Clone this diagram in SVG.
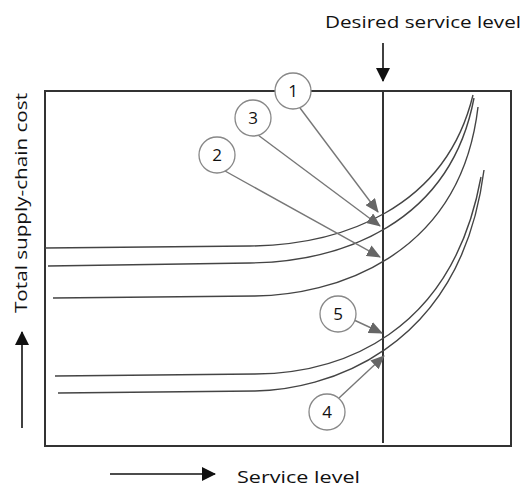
<svg xmlns="http://www.w3.org/2000/svg" width="523" height="488" viewBox="0 0 523 488">
<style>
.lbl{font-family:"Open Sans","DejaVu Sans",sans-serif;font-size:17px;fill:#111}
.num{font-family:"Open Sans","DejaVu Sans",sans-serif;font-size:17px;fill:#111;text-anchor:middle}
.circ{fill:#fff;stroke:#888;stroke-width:1.3}
.curve{fill:none;stroke:#444;stroke-width:1.4}
.pt{fill:none;stroke:#777;stroke-width:1.4;marker-end:url(#gh)}
.ax{stroke:#111;stroke-width:1.6;fill:none}
</style>
<defs>
<marker id="gh" markerWidth="14" markerHeight="12" refX="13" refY="6" orient="auto" markerUnits="userSpaceOnUse">
<path d="M0,0 L14,6 L0,12 Z" fill="#666"/>
</marker>
<marker id="bh" markerWidth="14" markerHeight="14" refX="13" refY="7" orient="auto" markerUnits="userSpaceOnUse">
<path d="M0,0 L14,7 L0,14 Z" fill="#111"/>
</marker>
</defs>
<rect width="523" height="488" fill="#fff"/>
<g id="frame">
<rect x="45" y="91" width="466" height="355" fill="none" stroke="#333" stroke-width="2"/>
<line x1="383" y1="91" x2="383" y2="443" stroke="#333" stroke-width="2"/>
</g>
<g id="curves">
<path class="curve" d="M45,248 L250,246 C340,245 445,210 473,95"/>
<path class="curve" d="M48,266 L250,263 C340,261.7 450,225 474,98"/>
<path class="curve" d="M53,298 L255,296 C330,295.3 460,260 478,107"/>
<path class="curve" d="M55,376 L255,374 C340,373.2 452,335 481,177"/>
<path class="curve" d="M58,393 L255,391 C320,390.3 460,355 484,170"/>
</g>
<g id="connectors">
<line class="pt" x1="300" y1="108" x2="378" y2="212"/>
<line class="pt" x1="258" y1="135" x2="380" y2="226"/>
<line class="pt" x1="225" y1="171" x2="380" y2="257"/>
<line class="pt" x1="354" y1="320" x2="382" y2="333"/>
<line class="pt" x1="339" y1="398" x2="384" y2="356"/>
<line class="ax" x1="383" y1="43" x2="383" y2="81" marker-end="url(#bh)"/>
<line class="ax" x1="22" y1="428" x2="22" y2="332" marker-end="url(#bh)"/>
<line class="ax" x1="110" y1="474" x2="215" y2="474" marker-end="url(#bh)"/>
</g>
<g id="n1"><circle class="circ" cx="293" cy="91" r="18"/><text class="num" x="293" y="97">1</text></g>
<g id="n3"><circle class="circ" cx="253" cy="118" r="18"/><text class="num" x="253" y="124">3</text></g>
<g id="n2"><circle class="circ" cx="217" cy="155" r="18"/><text class="num" x="217" y="161">2</text></g>
<g id="n5"><circle class="circ" cx="338" cy="314" r="18"/><text class="num" x="338" y="320">5</text></g>
<g id="n4"><circle class="circ" cx="327" cy="412" r="18"/><text class="num" x="327" y="418">4</text></g>
<g id="labels">
<text class="lbl" x="325" y="28" textLength="196" lengthAdjust="spacingAndGlyphs">Desired service level</text>
<text class="lbl" x="237" y="483" textLength="123" lengthAdjust="spacingAndGlyphs">Service level</text>
<text class="lbl" transform="translate(27,313) rotate(-90)" x="0" y="0" textLength="220" lengthAdjust="spacingAndGlyphs">Total supply-chain cost</text>
</g>
</svg>
